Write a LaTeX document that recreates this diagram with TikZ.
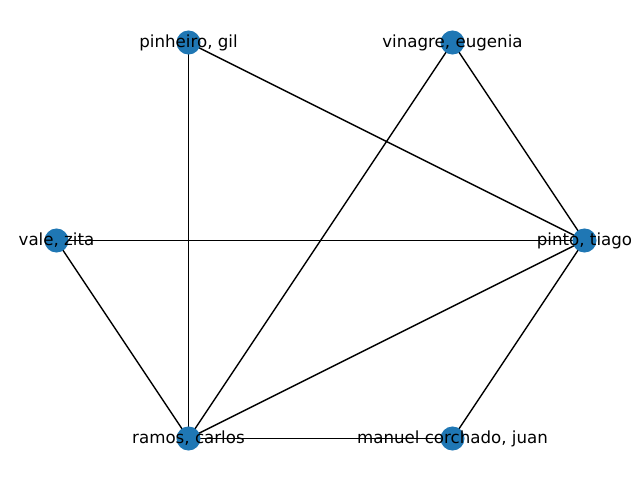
\documentclass[tikz,border=0pt]{standalone}
\usepackage{fontspec}
\setmainfont{DejaVu Sans}
\usetikzlibrary{backgrounds}
\definecolor{mplblue}{HTML}{1F77B4}
\begin{document}
\begin{tikzpicture}[x=0.72pt,y=-0.72pt,
  vert/.style={circle,fill=mplblue,draw=none,minimum size=17.3pt,inner sep=0pt,
    label={[font=\fontsize{12}{14}\selectfont,text=black,inner sep=0pt]center:#1}},
  edge/.style={draw=black,line width=1pt}]
\useasboundingbox (0,0) rectangle (640,480);
\node[vert={pinheiro, gil}] (pg) at (188.5,42.5) {};
\node[vert={vinagre, eugenia}] (ve) at (452.5,42.5) {};
\node[vert={vale, zita}] (vz) at (56.5,240.5) {};
\node[vert={pinto, tiago}] (pt) at (584.5,240.5) {};
\node[vert={ramos, carlos}] (rc) at (188.5,438.5) {};
\node[vert={manuel corchado, juan}] (mc) at (452.5,438.5) {};
\begin{scope}[on background layer]
\draw[edge] (pg.center) -- (pt.center);
\draw[edge] (pg.center) -- (rc.center);
\draw[edge] (ve.center) -- (pt.center);
\draw[edge] (ve.center) -- (rc.center);
\draw[edge] (vz.center) -- (pt.center);
\draw[edge] (vz.center) -- (rc.center);
\draw[edge] (rc.center) -- (pt.center);
\draw[edge] (rc.center) -- (mc.center);
\draw[edge] (mc.center) -- (pt.center);
\end{scope}
\end{tikzpicture}
\end{document}
